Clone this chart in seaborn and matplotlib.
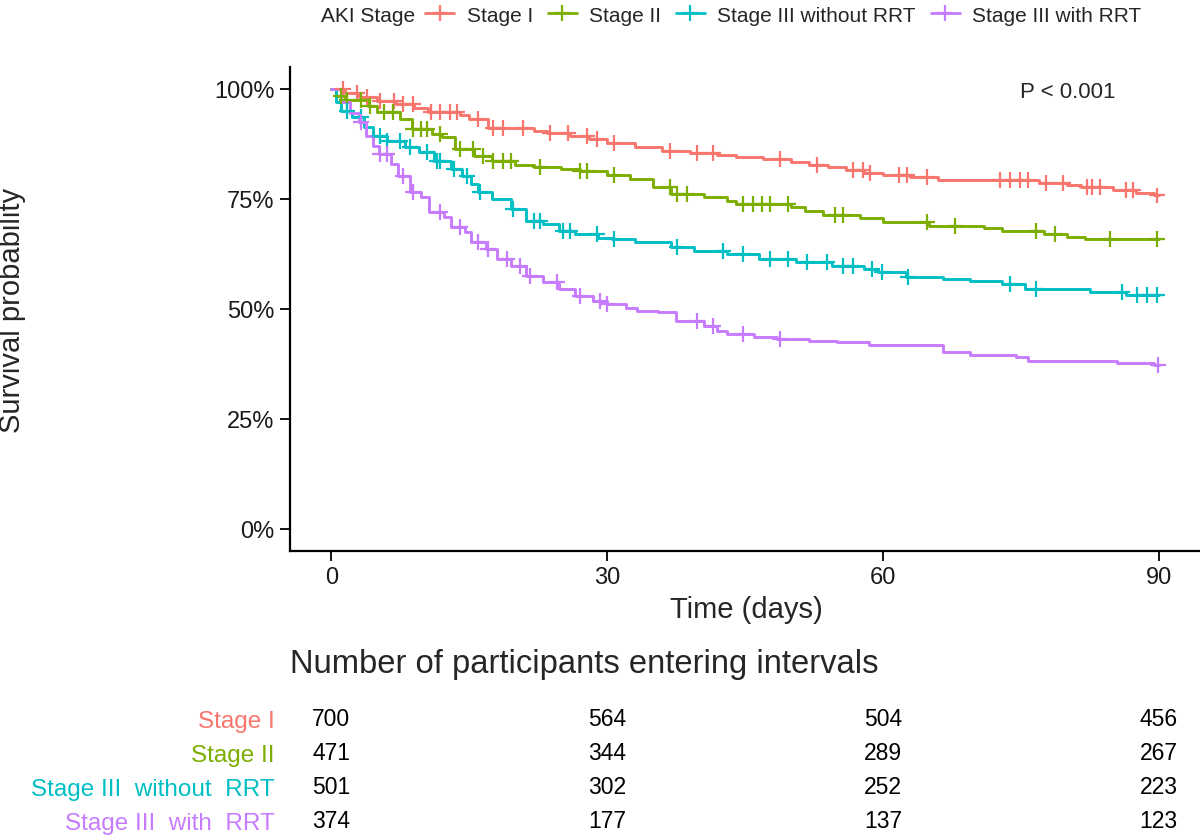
import numpy as np
import pandas as pd
import matplotlib
matplotlib.use("Agg")
import matplotlib.pyplot as plt
import seaborn as sns
from matplotlib.lines import Line2D

sns.set_style("ticks")
plt.rcParams["font.family"] = ["Liberation Sans", "DejaVu Sans"]

# ---------------- data ----------------
groups = ["Stage I", "Stage II", "Stage III without RRT", "Stage III with RRT"]
table_labels = ["Stage I", "Stage II", "Stage III  without  RRT", "Stage III  with  RRT"]
colors = ["#F8766D", "#7CAE00", "#00BFC4", "#C77CFF"]

s1_time = [0, 1.5, 3, 5, 7, 9, 10.5, 14, 15, 17, 22, 23.5, 26, 28, 30, 33, 36, 39, 42, 44,
           47, 50, 52, 54, 56, 58, 60, 63, 66, 77, 80, 81.5, 85, 87.5, 89.5, 90]
s1_surv = [1.0, 0.99, 0.982, 0.972, 0.965, 0.957, 0.948, 0.94, 0.932, 0.911, 0.905, 0.9,
           0.893, 0.886, 0.877, 0.868, 0.86, 0.855, 0.85, 0.845, 0.84, 0.834, 0.828, 0.822,
           0.815, 0.81, 0.805, 0.8, 0.793, 0.786, 0.781, 0.777, 0.77, 0.764, 0.758, 0.758]
s1_cens = [1.3, 2.8, 3.9, 5.3, 6.8, 7.8, 8.9, 10.8, 11.8, 12.9, 13.7, 15.9, 17.6, 18.7, 20.9,
           23.8, 25.7, 27.8, 28.9, 30.7, 36.8, 39.8, 41.5, 48.8, 52.8, 56.7, 57.8, 58.6, 61.8,
           62.6, 64.8, 72.7, 73.8, 74.9, 75.8, 77.8, 79.6, 82.2, 82.8, 83.6, 86.5, 87.2, 89.8]

s2_time = [0, 0.5, 1.5, 4, 5, 7.5, 8.8, 11, 12, 13.5, 15.5, 17.5, 20, 22, 25, 27, 30, 32.5,
           35, 37, 40.5, 43, 44, 50, 51.5, 53.5, 57.5, 60, 65, 71, 73, 77.5, 80, 82, 90]
s2_surv = [1.0, 0.984, 0.975, 0.962, 0.948, 0.932, 0.909, 0.898, 0.891, 0.864, 0.848, 0.836,
           0.828, 0.823, 0.818, 0.814, 0.804, 0.795, 0.777, 0.761, 0.755, 0.746, 0.739, 0.732,
           0.723, 0.714, 0.706, 0.698, 0.689, 0.683, 0.677, 0.67, 0.664, 0.659, 0.659]
s2_cens = [1.0, 1.7, 3.2, 4.2, 5.7, 6.7, 8.9, 9.7, 10.4, 11.8, 14.0, 15.4, 16.5, 17.6, 18.7,
           19.5, 22.7, 27.0, 27.8, 30.7, 36.8, 37.6, 38.7, 44.8, 45.9, 46.8, 47.7, 49.7, 54.8,
           55.7, 64.8, 67.8, 76.7, 78.7, 84.7, 89.8]

s3_time = [0, 0.5, 1, 2.2, 3.6, 4.5, 6, 8, 9.5, 11.2, 13, 14.2, 15.2, 16, 17.5, 19.5, 21.2,
           23, 24.8, 26.5, 29, 30.5, 33, 37, 39.5, 43, 46.5, 50.5, 54.5, 58, 59.5, 62.5, 66.5,
           69.5, 73, 75.5, 82.5, 86.5, 90]
s3_surv = [1.0, 0.97, 0.95, 0.936, 0.914, 0.893, 0.882, 0.868, 0.857, 0.836, 0.818, 0.802,
           0.784, 0.766, 0.75, 0.727, 0.7, 0.693, 0.677, 0.67, 0.662, 0.659, 0.652, 0.641,
           0.632, 0.625, 0.614, 0.607, 0.598, 0.59, 0.584, 0.573, 0.568, 0.564, 0.557, 0.545,
           0.539, 0.532, 0.532]
s3_cens = [1.7, 3.2, 5.3, 6.1, 7.5, 8.6, 10.4, 11.5, 11.8, 13.3, 14.8, 16.2, 19.8, 22.0, 22.7,
           25.2, 26.0, 28.9, 30.7, 37.6, 42.6, 44.8, 47.7, 49.7, 51.7, 53.9, 55.7, 56.7, 58.8,
           59.9, 62.7, 73.8, 76.7, 86.0, 87.6, 88.7, 89.8]

s4_time = [0, 1, 2, 3, 3.8, 4.5, 5.2, 6.5, 7.3, 8.6, 9.8, 10.6, 12.2, 13, 14.5, 15.2, 16.8,
           18, 19.5, 21.2, 23, 24.8, 26.5, 28.5, 30, 32, 33.2, 35.5, 37.5, 40.5, 42, 43, 46,
           48.5, 52, 55, 58.5, 66.5, 69.5, 74.5, 75.8, 85.5, 89.5, 90]
s4_surv = [1.0, 0.97, 0.945, 0.925, 0.893, 0.87, 0.852, 0.83, 0.802, 0.766, 0.755, 0.72,
           0.709, 0.686, 0.675, 0.652, 0.636, 0.614, 0.598, 0.575, 0.561, 0.545, 0.53, 0.518,
           0.511, 0.503, 0.495, 0.493, 0.473, 0.461, 0.45, 0.443, 0.436, 0.432, 0.428, 0.425,
           0.418, 0.402, 0.395, 0.391, 0.382, 0.378, 0.373, 0.373]
s4_cens = [3.2, 5.3, 6.1, 7.8, 8.9, 11.8, 14.0, 15.9, 17.0, 19.1, 20.5, 21.6, 24.6, 27.0,
           29.2, 30.0, 39.8, 41.5, 44.8, 48.8, 89.9]

x_ticks = [0, 30, 60, 90]
y_ticks = [0.0, 0.25, 0.5, 0.75, 1.0]
y_tick_labels = ["0%", "25%", "50%", "75%", "100%"]

risk_times = [0, 30, 60, 90]
risk_s1 = [700, 564, 504, 456]
risk_s2 = [471, 344, 289, 267]
risk_s3 = [501, 302, 252, 223]
risk_s4 = [374, 177, 137, 123]

pval_text = "P < 0.001"

# ---------------- frames ----------------
times = [s1_time, s2_time, s3_time, s4_time]
survs = [s1_surv, s2_surv, s3_surv, s4_surv]
cens = [s1_cens, s2_cens, s3_cens, s4_cens]
risks = [risk_s1, risk_s2, risk_s3, risk_s4]

curve_df = pd.concat([pd.DataFrame({"time": t, "surv": s, "group": g})
                      for t, s, g in zip(times, survs, groups)], ignore_index=True)

cens_rows = []
for t, s, c, g in zip(times, survs, cens, groups):
    t = np.asarray(t); s = np.asarray(s)
    idx = np.searchsorted(t, np.asarray(c), side="right") - 1
    cens_rows.append(pd.DataFrame({"time": c, "surv": s[idx], "group": g}))
cens_df = pd.concat(cens_rows, ignore_index=True)

palette = dict(zip(groups, colors))

# ---------------- figure ----------------
W, H = 1200, 837
fig = plt.figure(figsize=(W / 100, H / 100), dpi=100)

ax = fig.add_axes([290 / W, 1 - 552 / H, 910 / W, 484 / H])
sns.lineplot(data=curve_df, x="time", y="surv", hue="group", palette=palette,
             estimator=None, sort=False, drawstyle="steps-post", linewidth=2.1,
             legend=False, ax=ax)
sns.scatterplot(data=cens_df, x="time", y="surv", hue="group", palette=palette,
                marker="+", s=130, linewidth=1.6, legend=False, ax=ax, zorder=3)

ax.set_xlim(-4.5, 94.5)
ax.set_ylim(-0.05, 1.05)
ax.set_xticks(x_ticks)
ax.set_xticklabels([str(v) for v in x_ticks], fontsize=17)
ax.set_yticks(y_ticks)
ax.set_yticklabels(y_tick_labels, fontsize=17)
ax.tick_params(axis="both", length=7, width=1.3, color="black", labelcolor="#1a1a1a", pad=4)
for side in ["top", "right"]:
    ax.spines[side].set_visible(False)
for side in ["left", "bottom"]:
    ax.spines[side].set_color("black")
    ax.spines[side].set_linewidth(1.6)
ax.set_xlabel("Time (days)", fontsize=21)
ax.set_ylabel("Survival probability", fontsize=21)
ax.xaxis.set_label_coords(0.502, -0.091)
ax.yaxis.set_label_coords(-0.29, 0.5)
ax.text(80.1, 0.995, pval_text, fontsize=16, ha="center", va="center")

# legend at top
fig.text(415 / W, 1 - 16 / H, "AKI Stage", fontsize=15, ha="right", va="center")
handles = [Line2D([0], [0], color=c, lw=2.0, marker="+", markersize=11, mew=1.6)
           for c in colors]
fig.legend(handles, groups, loc="center left", bbox_to_anchor=(425 / W, 1 - 16 / H),
           ncol=4, frameon=False, fontsize=15, handlelength=1.4, handletextpad=0.6,
           columnspacing=0.7, borderpad=0, borderaxespad=0)

# risk table
fig.text(290 / W, 1 - 665 / H, "Number of participants entering intervals",
         fontsize=23.6, ha="left", va="center")
tab = fig.add_axes([290 / W, 1 - 837 / H, 910 / W, 136 / H])
tab.set_xlim(-4.5, 94.5)
tab.set_ylim(len(groups) - 0.5, -0.5)
for i, r in enumerate(risks):
    for t, n in zip(risk_times, r):
        tab.text(t, i + 0.05, str(n), fontsize=16.5, ha="center", va="center", color="black")
tab.set_yticks([i + 0.05 for i in range(len(groups))])
tab.set_yticklabels(table_labels, fontsize=17.5)
for lbl, c in zip(tab.get_yticklabels(), colors):
    lbl.set_color(c)
tab.tick_params(axis="y", length=0, pad=11)
tab.set_xticks([])
for sp in tab.spines.values():
    sp.set_visible(False)
tab.patch.set_alpha(0)

fig.savefig("out.png", dpi=100)
